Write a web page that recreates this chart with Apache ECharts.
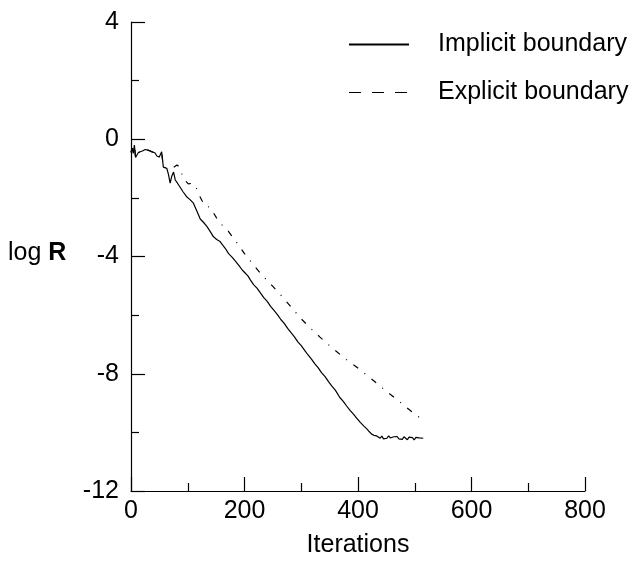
<!DOCTYPE html>
<html>
<head>
<meta charset="utf-8">
<script src="https://cdn.jsdelivr.net/npm/echarts@6/dist/echarts.min.js"></script>
<style>
  html, body { margin: 0; padding: 0; background: #fff; }
  #chart { width: 640px; height: 563px; }
</style>
</head>
<body>
<div id="chart"></div>
<script>
// [iteration, log R]
const implicitData = [
  [0, -0.45], [2, -0.3], [4, -0.48], [6, -0.2], [8, -0.62], [11, -0.65], [13, -0.45],
  [16, -0.48], [20, -0.4], [25, -0.35], [30, -0.37], [36, -0.42], [42, -0.46],
  [46, -0.58], [50, -0.6], [54, -0.43], [57, -0.95], [60, -0.92], [63, -0.99],
  [66, -1.2], [69, -1.5], [72, -1.25], [75, -1.12], [78, -1.39], [82, -1.5],
  [86, -1.62], [92, -1.8], [98, -1.96], [104, -2.06], [110, -2.18], [116, -2.45],
  [122, -2.72], [128, -2.84], [134, -2.98], [140, -3.16], [145, -3.32], [151, -3.42],
  [157, -3.49], [162, -3.62], [166, -3.72], [172, -3.9], [178, -4.02], [184, -4.16],
  [190, -4.3], [196, -4.46], [202, -4.58], [206, -4.66], [210, -4.79], [216, -4.96],
  [222, -5.08], [228, -5.24], [234, -5.4], [240, -5.53], [246, -5.7], [252, -5.84],
  [258, -5.98], [264, -6.15], [270, -6.28], [276, -6.45], [282, -6.6], [288, -6.74],
  [294, -6.91], [300, -7.04], [306, -7.2], [312, -7.36], [318, -7.5], [324, -7.66],
  [330, -7.8], [336, -7.97], [342, -8.1], [348, -8.27], [354, -8.42], [360, -8.56],
  [368, -8.81], [374, -8.94], [380, -9.1], [386, -9.25], [392, -9.38], [398, -9.52],
  [404, -9.66], [410, -9.78], [416, -9.89], [420, -9.98], [424, -10.06], [428, -10.1],
  [433, -10.12], [436, -10.16], [439, -10.2], [442, -10.13], [445, -10.22],
  [448, -10.16], [451, -10.2], [454, -10.12], [457, -10.19], [460, -10.23],
  [463, -10.15], [466, -10.21], [469, -10.14], [472, -10.22], [475, -10.17],
  [478, -10.24], [481, -10.15], [484, -10.2], [487, -10.25], [490, -10.16],
  [493, -10.22], [496, -10.18], [499, -10.26], [502, -10.17], [505, -10.23],
  [508, -10.19], [511, -10.25], [515, -10.2]
];

const explicitData = [
  [0, -0.45], [2, -0.3], [4, -0.48], [6, -0.2], [8, -0.62], [11, -0.65], [13, -0.45],
  [16, -0.48], [20, -0.4], [25, -0.35], [30, -0.37], [36, -0.42], [42, -0.46],
  [46, -0.58], [50, -0.6], [54, -0.43], [57, -0.95], [60, -0.92], [63, -0.99],
  [66, -1.05], [70, -0.97], [75, -0.96], [81, -0.88], [85, -0.94], [93, -1.36],
  [101, -1.52], [109, -1.5], [115, -1.67], [120, -1.9], [125, -2.09], [130, -2.27],
  [139, -2.32], [145, -2.5], [151, -2.69], [157, -2.86], [166, -3.03], [172, -3.15],
  [186, -3.52], [200, -3.9], [213, -4.22], [230, -4.62], [250, -5.02], [266, -5.36],
  [282, -5.72], [298, -6.09], [315, -6.42], [333, -6.75], [351, -7.06], [375, -7.45],
  [398, -7.78], [415, -8.04], [433, -8.32], [450, -8.6], [470, -8.9], [490, -9.22],
  [514, -9.58]
];

const xTicks = { min: 0, max: 800, step: 200 };
const yTicks = { min: -12, max: 4, step: 4 };

const font = "'Liberation Sans', Arial, sans-serif";
const fontSize = 25;

const chart = echarts.init(document.getElementById('chart'));

const axisCommon = {
  axisLine: { onZero: false, lineStyle: { color: '#000', width: 1.2 } },
  axisTick: { inside: true, length: 14, lineStyle: { color: '#000', width: 1.2 } },
  minorTick: { show: true, splitNumber: 2, length: 8, lineStyle: { color: '#000', width: 1.2 } },
  splitLine: { show: false },
  axisLabel: { color: '#000', fontSize: fontSize, fontFamily: font }
};

chart.setOption({
  animation: false,
  backgroundColor: '#fff',
  grid: { left: 131, right: 55, top: 22, bottom: 71 },
  xAxis: Object.assign({}, axisCommon, {
    type: 'value',
    min: xTicks.min,
    max: xTicks.max,
    interval: xTicks.step,
    name: 'Iterations',
    nameLocation: 'middle',
    nameGap: 42,
    nameTextStyle: { color: '#000', fontSize: fontSize, fontFamily: font },
    axisLabel: Object.assign({}, axisCommon.axisLabel, { margin: 8 })
  }),
  yAxis: Object.assign({}, axisCommon, {
    type: 'value',
    min: yTicks.min,
    max: yTicks.max,
    interval: yTicks.step,
    axisLabel: Object.assign({}, axisCommon.axisLabel, { margin: 12 })
  }),
  legend: {
    orient: 'vertical',
    left: 348,
    top: 32,
    padding: 0,
    itemWidth: 60,
    itemHeight: 20,
    itemGap: 23,
    // hide the circle ECharts puts in the middle of a line legend icon
    itemStyle: { opacity: 0, color: 'rgba(0,0,0,0)', borderWidth: 0 },
    textStyle: { color: '#000', fontSize: fontSize, fontFamily: font, padding: [0, 0, 0, 24] },
    data: [
      { name: 'Implicit boundary' },
      { name: 'Explicit boundary', lineStyle: { type: [12, 11], width: 1.2, color: '#000' } }
    ]
  },
  graphic: [{
    type: 'text',
    left: 8,
    top: 241,
    style: {
      text: '{a|log }{b|R}',
      rich: {
        a: { fontSize: fontSize, fontFamily: font, fill: '#000' },
        b: { fontSize: fontSize, fontFamily: font, fontWeight: 'bold', fill: '#000' }
      }
    }
  }],
  series: [
    {
      name: 'Implicit boundary',
      type: 'line',
      data: implicitData,
      symbol: 'none',
      lineStyle: { color: '#000', width: 1.2 },
      itemStyle: { color: '#000' }
    },
    {
      name: 'Explicit boundary',
      type: 'line',
      data: explicitData,
      symbol: 'none',
      lineStyle: { color: '#000', width: 1.2, type: [6, 8, 1, 8] },
      itemStyle: { color: '#000' }
    }
  ]
});
</script>
</body>
</html>
